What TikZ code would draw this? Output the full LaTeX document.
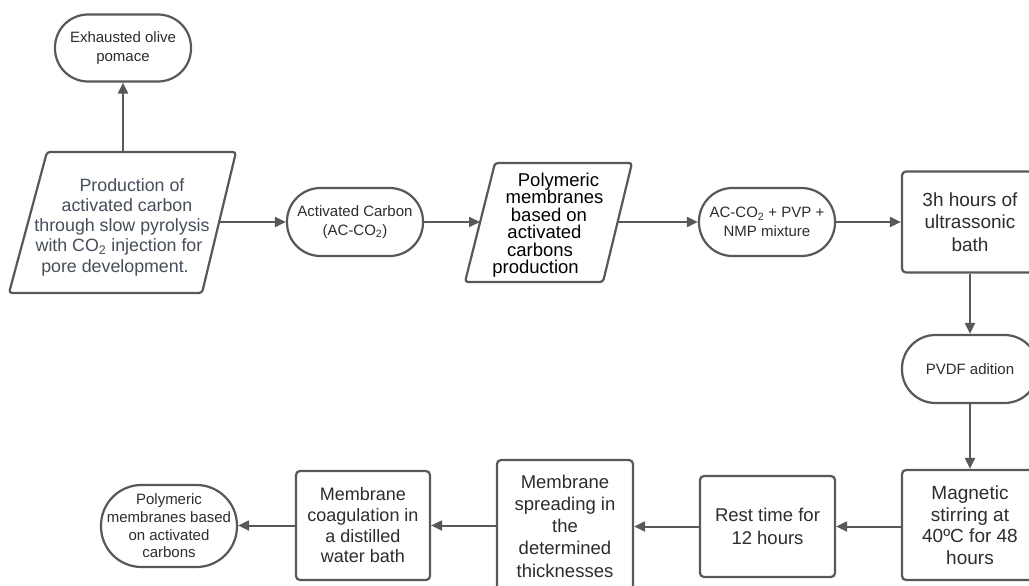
\documentclass[tikz,border=0pt]{standalone}
\usepackage{fontspec}
\setmainfont{Liberation Sans}
\usetikzlibrary{arrows.meta}
\definecolor{lc}{RGB}{88,88,88}
\definecolor{tc}{RGB}{45,45,45}
\definecolor{pc}{RGB}{70,78,90}
\lineskiplimit=-100pt
\begin{document}
\begin{tikzpicture}[x=1pt,y=-1pt,
  arr/.style={draw=lc, line width=2pt, -{Triangle[length=11pt,width=10pt]}},
  term/.style={draw=lc, line width=2.2pt, fill=white, minimum width=136pt, minimum height=68pt,
    rounded corners=33.5pt, inner sep=0pt, align=center, text=tc,
    font=\fontsize{15}{19}\selectfont},
  stepbox/.style={draw=lc, line width=2.2pt, fill=white, rounded corners=4pt, inner sep=0pt,
    minimum width=136pt, align=center, text=tc,
    font=\fontsize{18.5}{22.2}\selectfont},
  para/.style={draw=lc, line width=2.2pt, rounded corners=3pt},
  ptext/.style={inner sep=0pt, align=center}
]
\lineskiplimit=-100pt
\useasboundingbox (0,0) rectangle (1029,586);
\fill[white] (0,0) rectangle (1029,586);
\clip (0,0) rectangle (1029,586);

% top-left terminal
\node[term, minimum height=67pt, rounded corners=33pt] (pomace) at (123,48) {Exhausted olive\\pomace};

% parallelogram 1
\draw[para] (47,152) -- (236,152) -- (202,293) -- (9,293) -- cycle;
\node[ptext, text=pc, font=\fontsize{17.8}{20.2}\selectfont] (p1) at (123,227)
  {\hspace*{18pt}Production of\\\hspace*{8pt}activated carbon\\\hspace*{-2pt}through slow pyrolysis\\\hspace*{-8pt}with CO\textsubscript{2} injection for\\\hspace*{-16pt}pore development.};
\coordinate (p1n) at (123,152);
\coordinate (p1e) at (219,222);

% activated carbon
\node[term] (ac) at (355,222) {Activated Carbon\\(AC-CO\textsubscript{2})};

% parallelogram 2
\draw[para] (495,163) -- (632,163) -- (603,282) -- (465,282) -- cycle;
\node[ptext, text=black, font=\fontsize{18.5}{17.5}\selectfont] (p2) at (547,225)
  {\hspace*{23pt}Polymeric\\\hspace*{15pt}membranes\\\hspace*{4pt}based on\\\hspace*{-5pt}activated\\\hspace*{-14pt}carbons\\\hspace*{-23pt}production};
\coordinate (p2w) at (480,222);
\coordinate (p2e) at (617,222);

% mixture
\node[term] (mix) at (767,222) {AC-CO\textsubscript{2} + PVP +\\NMP mixture};

% ultrasonic bath
\node[stepbox, minimum height=101pt, font=\fontsize{19}{22.5}\selectfont] (ultra) at (970,222) {3h hours of\\ultrassonic\\bath};

% PVDF
\node[term] (pvdf) at (970,369) {PVDF adition};

% magnetic stirring
\node[stepbox, minimum height=110pt, font=\fontsize{19}{21.5}\selectfont] (mag) at (970,525) {Magnetic\\stirring at\\40ºC for 48\\hours};

% rest time
\node[stepbox, minimum width=135pt, minimum height=101pt, font=\fontsize{18.5}{23}\selectfont] (rest) at (767.5,526.5) {Rest time for\\12 hours};

% spreading
\node[stepbox, minimum height=132pt] (spread) at (565,526) {Membrane\\spreading in\\the\\determined\\thicknesses};

% coagulation
\node[stepbox, minimum width=134pt, minimum height=109pt, font=\fontsize{18}{20.7}\selectfont] (coag) at (363,525.5) {Membrane\\coagulation in\\a distilled\\water bath};

% final terminal
\node[term, minimum height=82pt, rounded corners=40.5pt, font=\fontsize{15}{17.6}\selectfont] (final) at (169,526) {Polymeric\\membranes based\\on activated\\carbons};

% connectors
\draw[arr] (p1n) -- (pomace.south);
\draw[arr] (p1e) -- (ac.west);
\draw[arr] (ac.east) -- (p2w);
\draw[arr] (p2e) -- (mix.west);
\draw[arr] (mix.east) -- (ultra.west);
\draw[arr] (ultra.south) -- (pvdf.north);
\draw[arr] (pvdf.south) -- (mag.north);
\draw[arr] (mag.west |- rest.east) -- (rest.east);
\draw[arr] (rest.west) -- (spread.east |- rest.west);
\draw[arr] (spread.west |- coag.east) -- (coag.east);
\draw[arr] (coag.west) -- (final.east |- coag.west);
\end{tikzpicture}
\end{document}
